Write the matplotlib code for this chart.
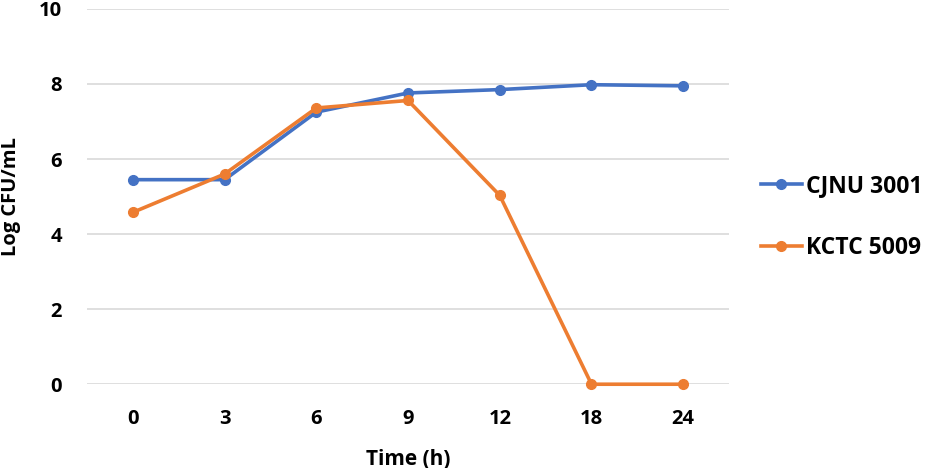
import matplotlib
matplotlib.use("Agg")
import matplotlib.pyplot as plt
import numpy as np

# Data
time_labels = ["0", "3", "6", "9", "12", "18", "24"]
cjnu_3001 = [5.45, 5.45, 7.25, 7.76, 7.85, 7.98, 7.95]
kctc_5009 = [4.58, 5.60, 7.36, 7.56, 5.03, 0.0, 0.0]

BLUE = "#4472C4"
ORANGE = "#ED7D31"

plt.rcParams["font.family"] = ["Open Sans", "Liberation Sans", "DejaVu Sans"]
plt.rcParams["font.weight"] = "bold"

fig = plt.figure(figsize=(9.31, 4.68), dpi=100)
ax = fig.add_axes([0.0935, 0.179, 0.6896, 0.802])

x = np.arange(len(time_labels))
ax.plot(x, cjnu_3001, color=BLUE, lw=2.6, marker="o", ms=7, label="CJNU 3001",
        zorder=3, clip_on=False)
ax.plot(x, kctc_5009, color=ORANGE, lw=2.6, marker="o", ms=7, label="KCTC 5009",
        zorder=4, clip_on=False)

ax.set_xlim(-0.5, len(time_labels) - 0.5)
ax.set_ylim(0, 10)
ax.set_yticks([0, 2, 4, 6, 8, 10])
ax.set_xticks(x)
ax.set_xticklabels(time_labels)
ax.tick_params(axis="x", length=0, labelsize=14.5, pad=18)
ax.tick_params(axis="y", length=0, labelsize=14.5, pad=18)
for lab in ax.get_xticklabels() + ax.get_yticklabels():
    lab.set_fontweight("bold")

ax.grid(axis="y", color="#d9d9d9", lw=1.2)
ax.set_axisbelow(True)
for s in ax.spines.values():
    s.set_visible(False)

ax.set_xlabel("Time (h)", fontsize=15, fontweight="bold")
ax.xaxis.set_label_coords(0.5, -0.172)
ax.set_ylabel("Log CFU/mL", fontsize=14.5, fontweight="bold")
ax.yaxis.set_label_coords(-0.103, 0.5)

leg = fig.legend(loc="center left", bbox_to_anchor=(0.817, 0.537), frameon=False,
                 fontsize=16.5, handlelength=1.8, labelspacing=1.65, handletextpad=0.2,
                 borderpad=0, borderaxespad=0)
for t in leg.get_texts():
    t.set_fontweight("bold")

fig.savefig("out.png", dpi=100)
